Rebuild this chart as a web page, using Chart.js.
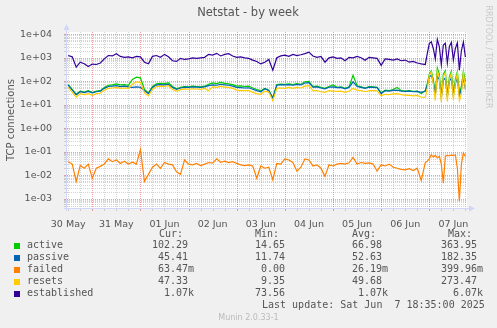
<!DOCTYPE html>
<html>
<head>
<meta charset="utf-8">
<title>Netstat - by week</title>
<script src="https://cdn.jsdelivr.net/npm/chart.js@4.4.1/dist/chart.umd.min.js"></script>
<style>
  html, body { margin: 0; padding: 0; background: #F0F0F0; }
  canvas { display: block; }
</style>
</head>
<body>
<canvas id="netstat" width="497" height="328"></canvas>
<script>
// Sample times, in hours relative to 31 May 00:00 (30-minute RRD data, thinned)
const sampleHours = [
  -12, -10, -8, -6, -4, -2, 0, 2, 4, 6, 8, 10, 12, 14, 16, 18, 20, 22,
  24, 26, 28, 30, 32, 34, 36, 38, 40, 42, 44, 46, 48, 50, 52, 54, 56, 58,
  60, 62, 64, 66, 68, 70, 72, 74, 76, 78, 80, 82, 84, 86, 88, 90, 92, 94,
  96, 98, 100, 102, 104, 106, 108, 110, 112, 114, 116, 118, 120, 122, 124, 126, 128, 130,
  132, 134, 136, 138, 140, 142, 144, 146, 148, 150, 152, 154, 156, 158, 160, 162, 164,
  166, 167, 168, 169, 170, 171, 172, 173, 174, 175, 176, 177, 178, 179, 180, 181, 182, 183, 184, 185, 186
];

const active = [
  72, 45, 28, 38, 35, 40, 33, 38, 40, 55, 68, 70, 78, 70, 72, 68, 120, 150,
  140, 45, 32, 60, 78, 82, 80, 85, 60, 48, 55, 60, 58, 62, 60, 58, 62, 75,
  85, 80, 90, 82, 78, 72, 62, 64, 60, 62, 52, 45, 40, 50, 42, 20, 72, 76,
  74, 78, 72, 80, 75, 95, 100, 60, 62, 55, 50, 60, 70, 56, 58, 50, 58, 180,
  65, 58, 52, 60, 58, 56, 32, 42, 40, 45, 55, 40, 38, 40, 37, 38, 30,
  40, 80, 200, 280, 120, 28, 364, 200, 22, 200, 280, 25, 150, 270, 30, 120, 260, 30, 60, 270, 102.29
];

const passive = [
  68, 42, 27, 36, 33, 37, 32, 36, 38, 50, 60, 62, 66, 60, 62, 58, 55, 58,
  56, 40, 30, 55, 70, 72, 70, 74, 55, 45, 52, 56, 55, 58, 57, 55, 58, 65,
  70, 68, 75, 70, 68, 62, 55, 54, 52, 53, 46, 40, 36, 48, 40, 19, 68, 72,
  70, 72, 68, 74, 70, 85, 88, 56, 58, 52, 48, 56, 58, 54, 55, 48, 55, 95,
  60, 55, 50, 56, 55, 54, 30, 40, 38, 41, 42, 38, 37, 38, 36, 37, 34,
  38, 70, 150, 182, 90, 26, 160, 120, 20, 110, 140, 22, 100, 140, 25, 80, 140, 25, 45, 150, 45.41
];

const failed = [
  0.038, 0.03, 0.0055, 0.026, 0.02, 0.03, 0.0075, 0.02, 0.024, 0.03, 0.05, 0.038, 0.045, 0.032, 0.04, 0.03, 0.036, 0.03,
  0.125, 0.0055, 0.011, 0.022, 0.03, 0.02, 0.035, 0.03, 0.028, 0.014, 0.011, 0.045, 0.03, 0.028, 0.032, 0.026, 0.03, 0.035,
  0.033, 0.05, 0.036, 0.04, 0.035, 0.038, 0.032, 0.028, 0.026, 0.028, 0.025, 0.0075, 0.025, 0.02, 0.022, 0.0065, 0.032, 0.03,
  0.05, 0.045, 0.035, 0.015, 0.022, 0.05, 0.045, 0.025, 0.028, 0.02, 0.009, 0.028, 0.025, 0.03, 0.032, 0.03, 0.034, 0.058,
  0.03, 0.035, 0.032, 0.034, 0.03, 0.015, 0.028, 0.025, 0.03, 0.022, 0.02, 0.018, 0.017, 0.019, 0.016, 0.02, 0.006,
  0.035, 0.04, 0.05, 0.075, 0.06, 0.07, 0.055, 0.065, 0.03, 0.0046, 0.065, 0.07, 0.068, 0.072, 0.07, 0.075, 0.02, 0.0008, 0.03, 0.09, 0.06347
];

const resets = [
  55, 35, 21, 30, 27, 30, 25, 30, 31, 42, 50, 52, 55, 50, 52, 50, 75, 95,
  90, 32, 24, 45, 60, 62, 60, 65, 45, 38, 44, 48, 46, 48, 47, 45, 50, 40,
  58, 55, 62, 56, 55, 50, 42, 40, 40, 41, 34, 30, 28, 38, 34, 15, 50, 52,
  50, 55, 50, 55, 52, 62, 65, 40, 40, 36, 34, 40, 38, 37, 38, 34, 38, 50,
  42, 40, 36, 40, 40, 39, 24, 28, 27, 29, 30, 27, 26, 25, 24, 25, 21,
  21, 50, 180, 250, 80, 15, 273, 150, 13, 160, 230, 14, 120, 220, 16, 90, 220, 15, 30, 230, 47.33
];

const established = [
  1250, 1100, 400, 650, 560, 430, 540, 520, 600, 900, 1250, 1200, 1500, 1150, 1050, 1100, 1000, 1150,
  1100, 650, 560, 1150, 1250, 1050, 1400, 1100, 750, 700, 950, 850, 900, 1000, 950, 1000, 1050, 1400,
  1300, 1550, 1200, 1400, 1500, 1200, 1050, 1100, 1000, 950, 800, 700, 550, 650, 850, 300, 1000, 1200,
  1300, 1150, 1400, 1250, 1350, 1500, 1750, 1200, 1050, 1150, 650, 1000, 1100, 950, 1000, 750, 1050, 1000,
  1150, 1000, 780, 1050, 1000, 950, 480, 900, 850, 800, 900, 750, 800, 650, 700, 600, 550,
  520, 1500, 4000, 4800, 2500, 900, 6070, 3000, 500, 3500, 4200, 600, 3000, 4500, 800, 2500, 4300, 300, 2000, 4700, 1070
];

// Day labels sit at noon of each day
const dayLabels = ['30 May', '31 May', '01 Jun', '02 Jun', '03 Jun', '04 Jun', '05 Jun', '06 Jun', '07 Jun'];
const dayLabelHours = [-12, 12, 36, 60, 84, 108, 132, 156, 180];
const decadeTicks = [1e-3, 1e-2, 1e-1, 1e0, 1e1, 1e2, 1e3, 1e4];

// Legend table
const seriesNames = ['active', 'passive', 'failed', 'resets', 'established'];
const seriesColors = ['#00CC00', '#0066B3', '#FF8000', '#FFCC00', '#330099'];
const curValues = [102.29, 45.41, 0.06347, 47.33, 1070];
const minValues = [14.65, 11.74, 0, 9.35, 73.56];
const avgValues = [66.98, 52.63, 0.02619, 49.68, 1070];
const maxValues = [363.95, 182.35, 0.39996, 273.47, 6070];

const seriesData = [active, passive, failed, resets, established];

const SANS = "'DejaVu Sans', 'Liberation Sans', sans-serif";
const MONO = "'DejaVu Sans Mono', 'Liberation Mono', monospace";
const FONT_COLOR = '#555555';
const AXIS_COLOR = '#CFD6F8';
const GRID_COLOR = 'rgba(143,143,143,0.38)';
const MGRID_COLOR = 'rgba(222,79,79,0.55)';

// rrdtool-style "%6.2lf%s" value formatting
function fmtValue(v) {
  let s = v, p = ' ';
  if (v !== 0 && Math.abs(v) >= 1000) { s = v / 1000; p = 'k'; }
  else if (v !== 0 && Math.abs(v) < 1) { s = v * 1000; p = 'm'; }
  return s.toFixed(2).padStart(6, ' ') + p;
}

function fmtDecade(v) {
  const e = Math.round(Math.log10(v));
  return '1e' + (e < 0 ? '-' : '+') + String(Math.abs(e)).padStart(2, '0');
}

const rrdFrame = {
  id: 'rrdFrame',
  beforeDraw(chart) {
    const { ctx, width, height } = chart;
    ctx.save();
    ctx.fillStyle = '#F0F0F0';
    ctx.fillRect(0, 0, width, height);
    ctx.restore();
  },
  beforeDatasetsDraw(chart) {
    const { ctx, chartArea: a, scales } = chart;
    const xs = scales.x, ys = scales.y;
    ctx.save();
    ctx.fillStyle = '#FFFFFF';
    ctx.fillRect(a.left, a.top, a.right - a.left, a.bottom - a.top);
    ctx.lineWidth = 1;
    ctx.setLineDash([1, 1]);

    const hLine = (v, color) => {
      const y = Math.round(ys.getPixelForValue(v)) + 0.5;
      if (y < a.top || y > a.bottom) return;
      ctx.strokeStyle = color;
      ctx.beginPath(); ctx.moveTo(a.left, y); ctx.lineTo(a.right, y); ctx.stroke();
      ctx.setLineDash([]);
      ctx.beginPath(); ctx.moveTo(a.left - 3, y); ctx.lineTo(a.left, y); ctx.stroke();
      ctx.setLineDash([1, 1]);
    };
    const vLine = (h, color) => {
      const x = Math.round(xs.getPixelForValue(h)) + 0.5;
      if (x < a.left || x > a.right) return;
      ctx.strokeStyle = color;
      ctx.beginPath(); ctx.moveTo(x, a.top); ctx.lineTo(x, a.bottom); ctx.stroke();
      ctx.setLineDash([]);
      ctx.beginPath(); ctx.moveTo(x, a.bottom); ctx.lineTo(x, a.bottom + 3); ctx.stroke();
      ctx.setLineDash([1, 1]);
    };

    // minor grid
    for (let e = -4; e <= 4; e++) {
      for (let m = 2; m <= 9; m++) hLine(m * Math.pow(10, e), GRID_COLOR);
    }
    for (let h = -24; h <= 192; h += 6) {
      if (h % 24 !== 0) vLine(h, GRID_COLOR);
    }
    // major grid
    decadeTicks.forEach(v => hLine(v, MGRID_COLOR));
    for (let h = -24; h <= 192; h += 24) vLine(h, MGRID_COLOR);
    ctx.restore();
  },
  afterDatasetsDraw(chart) {
    const { ctx, chartArea: a } = chart;
    ctx.save();
    ctx.strokeStyle = AXIS_COLOR;
    ctx.fillStyle = AXIS_COLOR;
    ctx.lineWidth = 1;
    // axes
    ctx.beginPath();
    ctx.moveTo(a.left - 0.5, a.bottom + 3); ctx.lineTo(a.left - 0.5, a.top - 3);
    ctx.moveTo(a.left - 3, a.bottom + 0.5); ctx.lineTo(a.right + 3, a.bottom + 0.5);
    ctx.stroke();
    // arrow heads
    ctx.beginPath();
    ctx.moveTo(a.left - 0.5, a.top - 8);
    ctx.lineTo(a.left - 3.5, a.top - 2);
    ctx.lineTo(a.left + 2.5, a.top - 2);
    ctx.closePath(); ctx.fill();
    ctx.beginPath();
    ctx.moveTo(a.right + 8, a.bottom + 0.5);
    ctx.lineTo(a.right + 2, a.bottom - 2.5);
    ctx.lineTo(a.right + 2, a.bottom + 3.5);
    ctx.closePath(); ctx.fill();
    ctx.restore();
  },
  afterDraw(chart) {
    const { ctx, chartArea: a } = chart;
    ctx.save();
    // title
    ctx.fillStyle = FONT_COLOR;
    ctx.font = '11.5px ' + SANS;
    ctx.textAlign = 'center';
    ctx.textBaseline = 'middle';
    ctx.fillText('Netstat - by week', 248, 13);

    // vertical axis title
    ctx.save();
    ctx.translate(11, (a.top + a.bottom) / 2);
    ctx.rotate(-Math.PI / 2);
    ctx.font = '10px ' + SANS;
    ctx.fillText('TCP connections', 0, 0);
    ctx.restore();

    // watermark
    ctx.save();
    ctx.translate(488, 57);
    ctx.rotate(Math.PI / 2);
    ctx.fillStyle = '#C8C8C8';
    ctx.font = '8px ' + SANS;
    ctx.fillText('RRDTOOL / TOBI OETIKER', 0, 0);
    ctx.restore();

    // legend table
    ctx.font = '10px ' + MONO;
    ctx.textAlign = 'left';
    ctx.fillStyle = FONT_COLOR;
    const headerY = 234;
    ctx.fillText('Cur:', 159, headerY);
    ctx.fillText('Min:', 255, headerY);
    ctx.fillText('Avg:', 352, headerY);
    ctx.fillText('Max:', 448, headerY);
    seriesNames.forEach((name, i) => {
      const y = 245.5 + i * 12;
      ctx.fillStyle = seriesColors[i];
      ctx.fillRect(14, Math.round(y) - 3, 6, 6);
      ctx.fillStyle = FONT_COLOR;
      ctx.fillText(name, 27, y);
      ctx.fillText(fmtValue(curValues[i]), 152, y);
      ctx.fillText(fmtValue(minValues[i]), 249, y);
      ctx.fillText(fmtValue(avgValues[i]), 346, y);
      ctx.fillText(fmtValue(maxValues[i]), 441, y);
    });
    ctx.fillText('Last update: Sat Jun  7 18:35:00 2025', 262, 305.5);

    ctx.fillStyle = '#BBBBBB';
    ctx.font = '8px ' + SANS;
    ctx.textAlign = 'center';
    ctx.fillText('Munin 2.0.33-1', 248.5, 317.5);
    ctx.restore();
  }
};

const datasets = seriesNames.map((name, i) => ({
  label: name,
  data: sampleHours.map((h, k) => ({ x: h, y: seriesData[i][k] })),
  borderColor: seriesColors[i],
  backgroundColor: seriesColors[i],
  borderWidth: 1.2,
  pointRadius: 0,
  tension: 0,
  fill: false,
  order: seriesNames.length - i
}));

new Chart(document.getElementById('netstat'), {
  type: 'line',
  data: { datasets },
  options: {
    responsive: false,
    animation: false,
    devicePixelRatio: 1,
    events: [],
    layout: { padding: { top: 32, right: 30, left: 0, bottom: 0 } },
    plugins: {
      legend: { display: false },
      title: { display: false },
      tooltip: { enabled: false }
    },
    scales: {
      x: {
        type: 'linear',
        min: -12.6,
        max: 186.8,
        afterFit(scale) { scale.height = 120; },
        afterBuildTicks(scale) { scale.ticks = dayLabelHours.map(v => ({ value: v })); },
        grid: { display: false },
        border: { display: false },
        ticks: {
          autoSkip: false,
          maxRotation: 0,
          padding: 3,
          color: FONT_COLOR,
          font: { family: SANS, size: 9.5 },
          callback: (value) => dayLabels[dayLabelHours.indexOf(value)]
        }
      },
      y: {
        type: 'logarithmic',
        min: Math.pow(10, -3.391),
        max: Math.pow(10, 4.098),
        afterFit(scale) { scale.width = 67; },
        afterBuildTicks(scale) { scale.ticks = decadeTicks.map(v => ({ value: v })); },
        grid: { display: false },
        border: { display: false },
        ticks: {
          padding: 7,
          color: FONT_COLOR,
          font: { family: SANS, size: 9.5 },
          callback: (value) => fmtDecade(value)
        }
      }
    }
  },
  plugins: [rrdFrame]
});
</script>
</body>
</html>
